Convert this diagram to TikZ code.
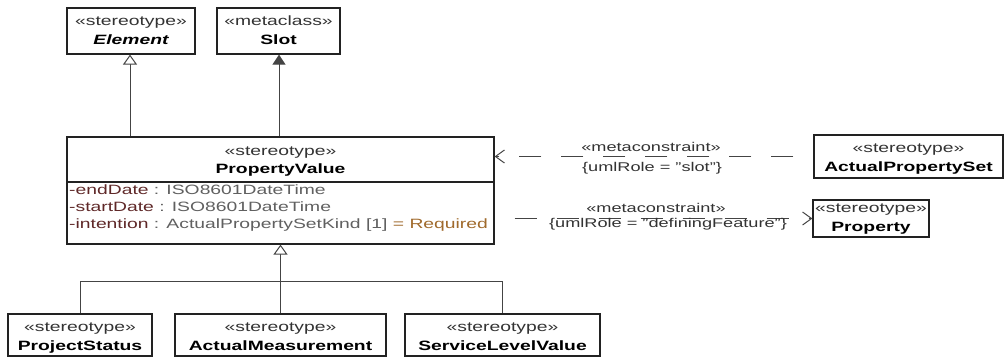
\documentclass[tikz,border=0pt]{standalone}
\usepackage{fontspec}
\setmainfont{Liberation Sans}[FakeStretch=1.43]
\usetikzlibrary{arrows.meta}
\definecolor{attrname}{HTML}{5F2828}
\definecolor{attrtype}{HTML}{606060}
\definecolor{defval}{HTML}{A06A2C}
\definecolor{stc}{HTML}{333333}
\definecolor{linec}{HTML}{444444}
\definecolor{boxc}{HTML}{222222}
\tikzset{
 box/.style={draw=boxc, line width=1.2pt, inner sep=0, fill=white},
 st/.style={anchor=base, inner sep=0, text=stc, font=\fontsize{13.5}{16}\selectfont},
 nm/.style={anchor=base, inner sep=0, text=black, font=\fontsize{13.5}{16}\selectfont\bfseries},
 attr/.style={anchor=base west, inner sep=0, font=\fontsize{13.5}{16}\selectfont},
 lb/.style={anchor=base, inner sep=0, text=stc, font=\fontsize{12.7}{15}\selectfont},
 conn/.style={draw=linec, line width=1pt},
 gen/.style={conn, -{Triangle[open, length=10pt, width=14pt, fill=white]}},
 ext/.style={conn, -{Triangle[length=10pt, width=13pt, fill=linec]}},
 dep/.style={conn, dash pattern=on 22pt off 20pt, -{Straight Barb[length=9pt, width=13pt]}}
}
\begin{document}
\begin{tikzpicture}[x=1pt,y=-1pt]
\useasboundingbox (0,0) rectangle (1006,360);
% boxes
\node[box, minimum width=128pt, minimum height=46pt] (element) at (131,31) {};
\node[box, minimum width=123pt, minimum height=46pt] (slot) at (278.5,31) {};
\node[box, minimum width=427pt, minimum height=107pt] (pv) at (280.5,190.5) {};
\node[box, minimum width=189pt, minimum height=43pt] (aps) at (908.5,156.5) {};
\node[box, minimum width=116pt, minimum height=37pt] (prop) at (871,218.5) {};
\node[box, minimum width=144pt, minimum height=42pt] (ps) at (80,335) {};
\node[box, minimum width=211pt, minimum height=42pt] (am) at (280.5,335) {};
\node[box, minimum width=195pt, minimum height=42pt] (slv) at (502.5,335) {};
% texts
\node[st] (t1) at (131,25) {«stereotype»};
\node[nm] (t2) at (131,44) {\bfseries\itshape Element};
\node[st] (t3) at (278.5,25) {«metaclass»};
\node[nm] (t4) at (278.5,44) {Slot};
\node[st] (t5) at (280.5,155) {«stereotype»};
\node[nm] (t6) at (280.5,173) {PropertyValue};
\coordinate (divy) at (0,182);
\draw[draw=boxc, line width=1.2pt] (pv.west |- divy) -- (pv.east |- divy);
\node[attr] (a1) at (69,194) {\textcolor{attrname}{-endDate} \textcolor{attrtype}{: ISO8601DateTime}};
\node[attr] (a2) at (69,211) {\textcolor{attrname}{-startDate} \textcolor{attrtype}{: ISO8601DateTime}};
\node[attr] (a3) at (69,228) {\textcolor{attrname}{-intention} \textcolor{attrtype}{: ActualPropertySetKind [1]} \textcolor{defval}{= Required}};
\node[st] (t7) at (908.5,152) {«stereotype»};
\node[nm] (t8) at (908.5,171) {ActualPropertySet};
\node[st] (t9) at (871,212) {«stereotype»};
\node[nm] (t10) at (871,231) {Property};
\node[st] (t11) at (80,331) {«stereotype»};
\node[nm] (t12) at (80,350) {ProjectStatus};
\node[st] (t13) at (280.5,331) {«stereotype»};
\node[nm] (t14) at (280.5,350) {ActualMeasurement};
\node[st] (t15) at (502.5,331) {«stereotype»};
\node[nm] (t16) at (502.5,350) {ServiceLevelValue};
% connectors
\coordinate (ex) at (130,0);
\coordinate (sx) at (279,0);
\draw[gen] (pv.north -| ex) -- (element.south -| ex);
\draw[ext] (pv.north -| sx) -- (slot.south -| sx);
\coordinate (bar) at (0,281);
\draw[conn] (ps.north) |- (slv.north |- bar) -- (slv.north);
\draw[gen] (am.north) -- (pv.south);
\draw[dep, dash phase=22pt] (aps.west) -- (pv.east |- aps.west);
\draw[dep, dash phase=22pt] (pv.east |- prop.west) -- (prop.west);
% labels
\node[lb] (l1) at (651,151) {«metaconstraint»};
\node[lb] (l2) at (652,171) {\{umlRole = "slot"\}};
\node[lb] (l3) at (656,212) {«metaconstraint»};
\node[lb] (l4) at (668,227) {\{umlRole = "definingFeature"\}};
\end{tikzpicture}
\end{document}
